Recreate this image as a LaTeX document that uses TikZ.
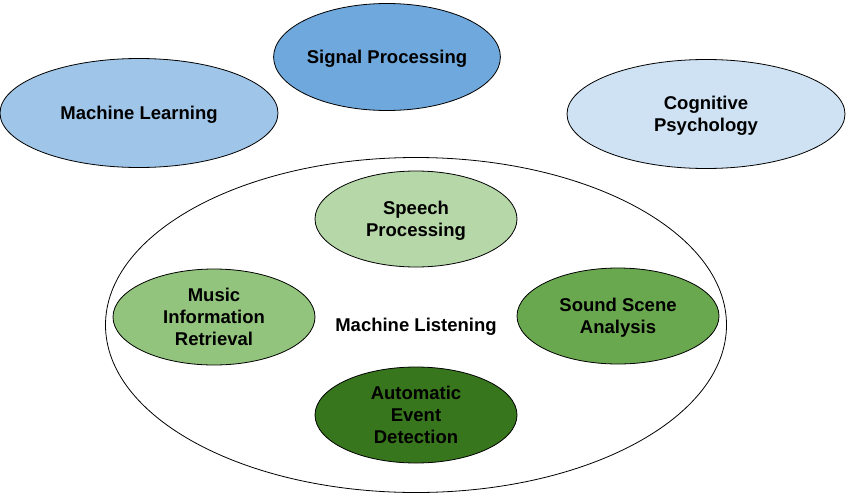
\documentclass[tikz,border=0pt]{standalone}
\usepackage{fontspec}
\setmainfont{Liberation Sans}
\usepackage{xcolor}
\usepackage{tikz}
\usetikzlibrary{shapes.geometric, positioning}
\definecolor{signalcolor}{RGB}{111,168,220}
\definecolor{learncolor}{RGB}{159,197,232}
\definecolor{cogcolor}{RGB}{207,226,243}
\definecolor{speechcolor}{RGB}{182,215,168}
\definecolor{musiccolor}{RGB}{147,196,125}
\definecolor{scenecolor}{RGB}{106,168,79}
\definecolor{eventcolor}{RGB}{56,118,29}

\begin{document}
\begin{tikzpicture}[
    x=1pt, y=-1pt,
    label font/.style={font=\fontsize{18.5}{22}\selectfont\bfseries, text depth=-4pt},
    field/.style={ellipse, draw, line width=0.8pt, inner sep=0pt, align=center, label font},
    outer/.style={field, minimum width=278pt, minimum height=109pt},
    task/.style={field, minimum width=202pt, minimum height=96pt}
]
\useasboundingbox (0,0) rectangle (848,498);

% Neighbouring fields
\node[outer, fill=learncolor] (learn) at (139,113) {Machine Learning};
\node[outer, fill=signalcolor, minimum width=220pt, minimum height=107pt] (signal) at (387,57) {Signal Processing};
\node[outer, fill=cogcolor] (cog) at (706,114) {Cognitive\\Psychology};

% Machine listening
\node[field, fill=white, minimum width=621pt, minimum height=335pt] (listen) at (416,325) {};
\node[label font] (listenlabel) at (listen.center) {Machine Listening};

% Tasks inside
\node[task, fill=speechcolor] (speech) at (416,219) {Speech\\Processing};
\node[task, fill=musiccolor] (music) at (214,317) {Music\\Information\\Retrieval};
\node[task, fill=scenecolor] (scene) at (618,316) {Sound Scene\\Analysis};
\node[task, fill=eventcolor] (event) at (416,415) {Automatic\\Event\\Detection};

\end{tikzpicture}
\end{document}
